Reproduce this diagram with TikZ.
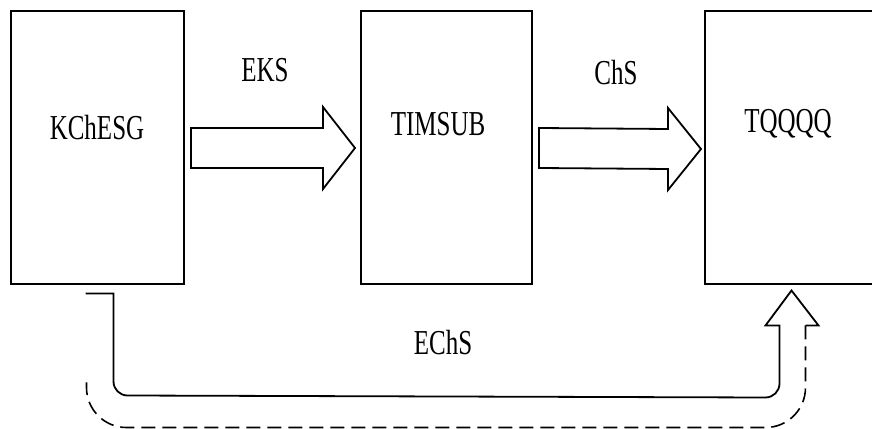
\documentclass[tikz,border=0pt]{standalone}
\usepackage{fontspec}
\setmainfont{Liberation Serif}
\usetikzlibrary{calc, positioning}

\begin{document}
\begin{tikzpicture}[
  x=1pt, y=1pt,
  box/.style={draw, line width=2pt, minimum height=273pt, inner sep=0pt},
  lbl/.style={font=\fontsize{25}{30}\selectfont, yscale=1.4, inner sep=0pt},
  blk/.style={draw, line width=1.8pt, line join=miter},
  back/.style={line width=1.8pt},
  backdash/.style={line width=1.6pt, dash pattern=on 14pt off 7pt}
]
\useasboundingbox (0,0) rectangle (872,428);
\clip (0,0) rectangle (872,428);

\node[box, minimum width=173pt] (kch) at (97.5, 280) {};
\node[box, minimum width=171pt] (tims) at (446.5, 280) {};
\node[box, minimum width=175pt] (tq) at (792.5, 280) {};

\node[lbl] (kchlbl) at (97, 300) {KChESG};
\node[lbl] (timslbl) at (438, 304) {TIMSUB};
\node[lbl] (tqlbl) at (788, 304) {TQQQQ};
\node[lbl] (eks) at (265, 358) {EKS};
\node[lbl] (chs) at (616, 355) {ChS};
\node[lbl] (echs) at (443, 85) {EChS};

\coordinate (a1s) at ($(kch.east)+(6,0)$);
\coordinate (a1t) at ($(tims.west)+(-5,0)$);
\coordinate (a2s) at ($(tims.east)+(6,0)$);
\coordinate (a2t) at ($(tq.west)+(-3,-1)$);
\coordinate (tail) at ($(kch.south)+(-12,-8)$);
\coordinate (tip) at ($(tq.south)+(-1,-5)$);

\draw[blk] ($(a1s)+(0,20)$) -- ($(a1t)+(-32,20)$) -- ($(a1t)+(-32,41)$) -- (a1t)
  -- ($(a1t)+(-32,-41)$) -- ($(a1t)+(-32,-20)$) -- ($(a1s)+(0,-20)$) -- cycle;
\draw[blk] ($(a2s)+(0,20)$) -- ($(a2t)+(-33,20)$) -- ($(a2t)+(-33,41)$) -- (a2t)
  -- ($(a2t)+(-33,-41)$) -- ($(a2t)+(-33,-20)$) -- ($(a2s)+(0,-20)$) -- cycle;

\draw[back] (tail) -- ++(28,0) -- ++(0,-88) arc[start angle=180, end angle=270, radius=14]
  -- ($(tip)+(-26,-107)$) arc[start angle=270, end angle=360, radius=14]
  -- ($(tip)+(-12,-35)$) -- ++(-14,0) -- (tip) -- ++(27,-35) -- ++(-13,0);
\draw[backdash] ($(tip)+(14,-35)$) -- ++(0,-62) arc[start angle=0, end angle=-90, radius=40]
  -- ++(-639,0) arc[start angle=270, end angle=180, radius=40] -- ++(0,5);

\end{tikzpicture}
\end{document}
